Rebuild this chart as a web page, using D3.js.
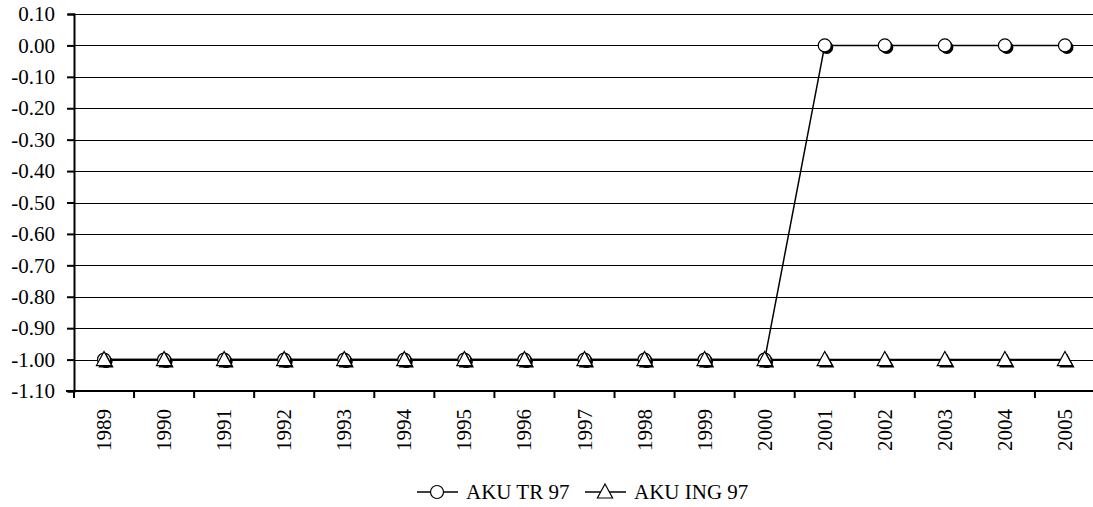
<!DOCTYPE html>
<html>
<head>
<meta charset="utf-8">
<script src="https://cdn.jsdelivr.net/npm/d3@7"></script>
<style>
body { margin: 0; background: #fff; }
text { font-family: "Liberation Serif", "Times New Roman", serif; fill: #000; }
</style>
</head>
<body>
<div class="chart"></div>
<script>
var years = ["1989","1990","1991","1992","1993","1994","1995","1996","1997","1998","1999","2000","2001","2002","2003","2004","2005"];
var akuTr97 = [-1,-1,-1,-1,-1,-1,-1,-1,-1,-1,-1,-1,0,0,0,0,0];
var akuIng97 = [-1,-1,-1,-1,-1,-1,-1,-1,-1,-1,-1,-1,-1,-1,-1,-1,-1];
var yTicks = [0.1,0,-0.1,-0.2,-0.3,-0.4,-0.5,-0.6,-0.7,-0.8,-0.9,-1.0,-1.1];

var width = 1093, height = 507;
var svg = d3.select(".chart").append("svg")
    .attr("width", width)
    .attr("height", height);

var plotLeft = 74, plotRight = 1095, plotTop = 14, plotBottom = 391;

var x = d3.scaleBand().domain(years).range([plotLeft, plotRight]);
var y = d3.scaleLinear().domain([-1.1, 0.1]).range([plotBottom, plotTop]);

// gridlines
svg.append("g").selectAll("line")
    .data(yTicks)
    .enter().append("line")
      .attr("x1", plotLeft).attr("x2", width)
      .attr("y1", function(d) { return Math.round(y(d)) + 0.5; })
      .attr("y2", function(d) { return Math.round(y(d)) + 0.5; })
      .attr("stroke", "#000")
      .attr("stroke-width", 1);

// y axis (plain hyphen for the minus, like the original)
var fmt = d3.format(".2f");
var yAxis = d3.axisLeft(y).tickValues(yTicks).tickSize(6).tickPadding(4)
    .tickFormat(function(d) { return fmt(d).replace("\u2212", "-"); });
var gy = svg.append("g")
    .attr("transform", "translate(" + plotLeft + ",0)")
    .call(yAxis);
gy.select(".domain").attr("stroke", "#000").attr("stroke-width", 2);
gy.selectAll(".tick line").attr("stroke", "#000").attr("stroke-width", 2).attr("x2", -7).attr("x1", 1);
gy.selectAll("text").attr("font-size", null).style("font-size", "21px").attr("x", -19);

// x axis
var gx = svg.append("g")
    .attr("transform", "translate(0," + plotBottom + ")");
gx.append("line")
    .attr("x1", plotLeft - 8).attr("x2", width)
    .attr("y1", 0).attr("y2", 0)
    .attr("stroke", "#000").attr("stroke-width", 2);
gx.selectAll(".xt")
    .data(years)
    .enter().append("line")
      .attr("class", "xt")
      .attr("x1", function(d) { return x(d); })
      .attr("x2", function(d) { return x(d); })
      .attr("y1", 0).attr("y2", 7)
      .attr("stroke", "#000").attr("stroke-width", 2);
gx.selectAll(".xl")
    .data(years)
    .enter().append("text")
      .attr("class", "xl")
      .attr("transform", function(d) {
        return "translate(" + (x(d) + x.bandwidth() / 2 + 7) + ",18) rotate(-90)";
      })
      .style("text-anchor", "end")
      .style("font-size", "21px")
      .text(function(d) { return d; });

var cx = function(i) { return x(years[i]) + x.bandwidth() / 2; };

var line = d3.line()
    .x(function(d, i) { return cx(i); })
    .y(function(d) { return y(d); });

function triPath(r) {
  return "M0," + (-r) + "L" + (r * 0.95) + "," + (r * 0.75) + "L" + (-r * 0.95) + "," + (r * 0.75) + "Z";
}

// series lines
svg.append("path").datum(akuTr97)
    .attr("d", line).attr("fill", "none").attr("stroke", "#000").attr("stroke-width", 1.5);
svg.append("path").datum(akuIng97)
    .attr("d", line).attr("fill", "none").attr("stroke", "#000").attr("stroke-width", 1.5);

// circle markers with shadow
var c = svg.append("g").selectAll("g")
    .data(akuTr97)
    .enter().append("g")
      .attr("transform", function(d, i) { return "translate(" + cx(i) + "," + y(d) + ")"; });
c.append("circle").attr("cx", 2).attr("cy", 2).attr("r", 6.5).attr("fill", "#000");
c.append("circle").attr("r", 6.5).attr("fill", "#fff").attr("stroke", "#000").attr("stroke-width", 1.2);

// triangle markers with shadow
var t = svg.append("g").selectAll("g")
    .data(akuIng97)
    .enter().append("g")
      .attr("transform", function(d, i) { return "translate(" + cx(i) + "," + y(d) + ")"; });
t.append("path").attr("d", triPath(8)).attr("transform", "translate(2,2)").attr("fill", "#000");
t.append("path").attr("d", triPath(8)).attr("fill", "#fff").attr("stroke", "#000").attr("stroke-width", 1.2);

// legend
var legend = svg.append("g").attr("transform", "translate(0,492)");
var items = [
  { name: "AKU TR 97", x0: 417, shape: "circle" },
  { name: "AKU ING 97", x0: 585, shape: "triangle" }
];
items.forEach(function(it) {
  var g = legend.append("g").attr("transform", "translate(" + it.x0 + ",0)");
  g.append("line").attr("x1", 0).attr("x2", 41).attr("y1", 0).attr("y2", 0)
    .attr("stroke", "#000").attr("stroke-width", 1.5);
  if (it.shape === "circle") {
    g.append("circle").attr("cx", 20).attr("cy", 0).attr("r", 6.5)
      .attr("fill", "#fff").attr("stroke", "#000").attr("stroke-width", 1.2);
  } else {
    g.append("path").attr("d", triPath(8)).attr("transform", "translate(20,0)")
      .attr("fill", "#fff").attr("stroke", "#000").attr("stroke-width", 1.2);
  }
  g.append("text").attr("x", 49).attr("y", 7).style("font-size", "21px").text(it.name);
});
</script>
</body>
</html>
